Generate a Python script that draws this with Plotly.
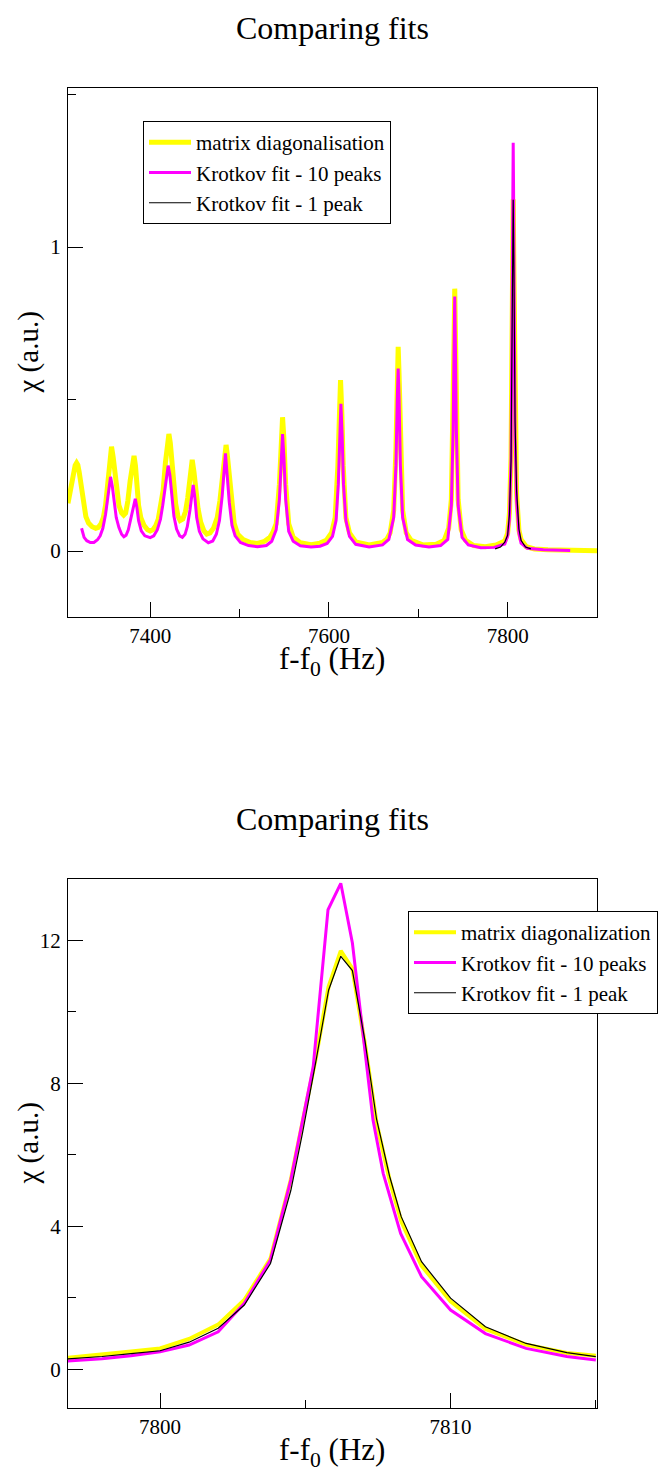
import plotly.graph_objects as go

# ---- top panel: wide scan (x in Hz, chi in a.u.) ----
diag_x = [7308, 7310, 7312, 7314, 7316, 7317.6, 7319, 7320.5, 7322, 7324,
          7326, 7328, 7331, 7335, 7339, 7342, 7345, 7347.5, 7350, 7352,
          7354, 7356.7, 7358.5, 7360.5, 7362.5, 7365, 7368, 7370.3, 7372.5, 7375,
          7377.5, 7380, 7381.9, 7383.5, 7385.2, 7387, 7389.5, 7393, 7397, 7400,
          7403, 7406, 7409, 7412, 7414.5, 7417, 7419.5, 7420.9, 7422.5, 7424.5,
          7426.5, 7428.5, 7431, 7433.5, 7436.5, 7439.5, 7442, 7444.5, 7447, 7449,
          7451, 7453.5, 7456.5, 7460, 7463.3, 7467, 7471, 7475, 7478, 7481,
          7483.5, 7484.9, 7486.5, 7488.5, 7491, 7494, 7498, 7504, 7512, 7520,
          7528, 7534, 7537, 7541, 7544.6, 7546.6, 7548.1, 7549.6, 7551.6, 7555,
          7560, 7568, 7580, 7590, 7597, 7603, 7607, 7610, 7611.5, 7613,
          7614.5, 7616, 7619, 7623, 7630, 7645, 7660, 7665, 7668.5, 7672.5,
          7675, 7676.5, 7677.5, 7678.5, 7680, 7682.5, 7686.5, 7692, 7705, 7720,
          7729, 7734, 7737, 7739, 7740, 7740.8, 7741.6, 7742.6, 7744.6, 7748,
          7753, 7762, 7775, 7787, 7796.8, 7800, 7802, 7803.8, 7805.36, 7806.22,
          7807.05, 7808.3, 7810, 7812.6, 7815, 7820.9, 7830, 7845, 7870, 7900]
diag_y = [0.157, 0.19, 0.225, 0.258, 0.282, 0.29, 0.283, 0.26, 0.225, 0.18,
          0.14, 0.113, 0.092, 0.08, 0.075, 0.078, 0.09, 0.11, 0.15, 0.2,
          0.28, 0.343, 0.31, 0.25, 0.19, 0.15, 0.125, 0.118, 0.125, 0.165,
          0.23, 0.29, 0.313, 0.28, 0.21, 0.15, 0.11, 0.085, 0.07, 0.066,
          0.07, 0.082, 0.105, 0.148, 0.2, 0.29, 0.36, 0.385, 0.355, 0.29,
          0.21, 0.155, 0.115, 0.1, 0.105, 0.13, 0.175, 0.24, 0.30, 0.26,
          0.2, 0.14, 0.095, 0.067, 0.056, 0.06, 0.076, 0.11, 0.165, 0.26,
          0.33, 0.349, 0.31, 0.24, 0.15, 0.09, 0.055, 0.038, 0.028, 0.025,
          0.032, 0.045, 0.06, 0.09, 0.22, 0.37, 0.44, 0.37, 0.22, 0.09,
          0.045, 0.027, 0.021, 0.026, 0.035, 0.06, 0.11, 0.28, 0.45, 0.5625,
          0.45, 0.28, 0.11, 0.06, 0.03, 0.02, 0.028, 0.04, 0.06, 0.134,
          0.336, 0.58, 0.672, 0.58, 0.336, 0.134, 0.06, 0.035, 0.02, 0.022,
          0.035, 0.075, 0.17, 0.43, 0.69, 0.863, 0.69, 0.43, 0.17, 0.07,
          0.035, 0.018, 0.014, 0.02, 0.033, 0.059, 0.125, 0.31, 0.87, 1.157,
          0.91, 0.415, 0.19, 0.069, 0.038, 0.014, 0.007, 0.004, 0.002, 0.001]

k10_x = [7323.2, 7324.5, 7326, 7329, 7333, 7337, 7341, 7344, 7347, 7350,
         7352.5, 7355.6, 7357.5, 7359.5, 7362, 7365, 7368, 7370.5, 7373, 7375.5,
         7378, 7381, 7383.3, 7385, 7387, 7390, 7394, 7400, 7404, 7408,
         7411.5, 7414, 7417, 7420.1, 7422, 7424, 7426.5, 7429.5, 7433, 7436,
         7439, 7441.5, 7444.5, 7448.1, 7450, 7452, 7455, 7459, 7465, 7470,
         7474, 7477.5, 7480.5, 7484.2, 7486.5, 7488.5, 7491.5, 7495, 7501, 7510,
         7520, 7530, 7536, 7541, 7544.6, 7546.6, 7548.1, 7549.6, 7551.6, 7555,
         7560, 7568, 7580, 7590, 7598, 7604, 7608, 7610.5, 7612, 7613.4,
         7614.8, 7616.3, 7619, 7623, 7630, 7645, 7660, 7667, 7672.5, 7675,
         7676.5, 7677.5, 7678.5, 7680, 7682.5, 7688, 7697, 7712, 7725, 7733,
         7737, 7739, 7740, 7740.8, 7741.6, 7742.6, 7744.6, 7749, 7756, 7770,
         7785, 7796.8, 7800, 7802, 7803.8, 7805.27, 7805.78, 7806.22, 7806.62, 7807.33,
         7808.28, 7810, 7812.6, 7815, 7822, 7840, 7870]
k10_y = [0.075, 0.058, 0.045, 0.034, 0.028, 0.028, 0.037, 0.05, 0.075, 0.12,
         0.175, 0.244, 0.215, 0.16, 0.11, 0.077, 0.055, 0.047, 0.052, 0.07,
         0.1, 0.145, 0.172, 0.145, 0.1, 0.066, 0.05, 0.044, 0.05, 0.07,
         0.105, 0.15, 0.22, 0.281, 0.25, 0.18, 0.115, 0.072, 0.05, 0.045,
         0.055, 0.08, 0.135, 0.217, 0.175, 0.11, 0.065, 0.04, 0.027, 0.033,
         0.055, 0.1, 0.18, 0.321, 0.24, 0.16, 0.085, 0.05, 0.028, 0.018,
         0.014, 0.018, 0.032, 0.07, 0.17, 0.31, 0.385, 0.31, 0.17, 0.065,
         0.032, 0.017, 0.013, 0.016, 0.025, 0.048, 0.1, 0.22, 0.38, 0.484,
         0.38, 0.22, 0.1, 0.048, 0.022, 0.013, 0.02, 0.038, 0.11, 0.28,
         0.5, 0.6, 0.5, 0.28, 0.11, 0.038, 0.02, 0.013, 0.018, 0.038,
         0.15, 0.4, 0.66, 0.837, 0.66, 0.4, 0.15, 0.045, 0.02, 0.011,
         0.012, 0.023, 0.049, 0.105, 0.306, 0.846, 1.285, 1.343, 1.192, 0.697,
         0.38, 0.166, 0.059, 0.026, 0.009, 0.004, 0.002]

k1_x = [7786, 7792, 7796.8, 7800, 7802, 7803.8, 7805.36, 7806.22, 7807.05, 7808.3,
        7810, 7812.6, 7815, 7820, 7826]
k1_y = [0.007, 0.013, 0.029, 0.052, 0.12, 0.296, 0.86, 1.155, 0.92, 0.427,
        0.199, 0.0725, 0.035, 0.013, 0.007]

# ---- bottom panel: zoom on the last peak ----
zdiag_x = [7796.8, 7798, 7799, 7800, 7801, 7802, 7802.9, 7803.8, 7804.5, 7804.9,
           7805.36, 7805.8, 7806.22, 7806.62, 7807.05, 7807.45, 7807.9, 7808.3, 7809, 7810,
           7811.2, 7812.6, 7814, 7815]
zdiag_y = [0.325, 0.41, 0.5, 0.587, 0.85, 1.25, 1.94, 3.1, 5.3, 6.9,
           8.7, 10.7, 11.7, 11.2, 9.1, 6.9, 5.3, 4.15, 2.9, 1.9,
           1.13, 0.69, 0.46, 0.38]

zk10_x = [7796.8, 7798, 7799, 7800, 7801, 7802, 7802.9, 7803.8, 7804.5, 7804.9,
          7805.27, 7805.78, 7806.22, 7806.62, 7806.99, 7807.33, 7807.68, 7808.28, 7809, 7810,
          7811.2, 7812.6, 7814, 7815]
zk10_y = [0.232, 0.3, 0.38, 0.49, 0.68, 1.05, 1.85, 3.06, 5.3, 6.9,
          8.46, 12.85, 13.59, 11.92, 9.4, 6.97, 5.48, 3.8, 2.59, 1.66,
          1.0, 0.587, 0.36, 0.26]

zk1_x = [7796.8, 7798, 7799, 7800, 7801, 7802, 7802.9, 7803.8, 7804.5, 7804.9,
         7805.36, 7805.8, 7806.22, 7806.62, 7807.05, 7807.45, 7807.9, 7808.3, 7809, 7810,
         7811.2, 7812.6, 7814, 7815]
zk1_y = [0.29, 0.36, 0.44, 0.52, 0.76, 1.15, 1.8, 2.96, 5.0, 6.6,
         8.6, 10.6, 11.55, 11.15, 9.2, 7.0, 5.4, 4.27, 3.01, 1.99,
         1.19, 0.725, 0.47, 0.354]

W, H = 660, 1472
SERIF = 'Liberation Serif'


def px_x(p):
    return p / W


def px_y(p):
    return 1 - p / H


fig = go.Figure()

# top panel
fig.add_trace(go.Scatter(x=diag_x, y=diag_y, mode='lines', name='matrix diagonalisation',
                         line=dict(color='#ffff00', width=5), xaxis='x', yaxis='y', legend='legend'))
fig.add_trace(go.Scatter(x=k10_x, y=k10_y, mode='lines', name='Krotkov fit - 10 peaks',
                         line=dict(color='#ff00ff', width=3), xaxis='x', yaxis='y', legend='legend'))
fig.add_trace(go.Scatter(x=k1_x, y=k1_y, mode='lines', name='Krotkov fit - 1 peak',
                         line=dict(color='black', width=1.2), xaxis='x', yaxis='y', legend='legend'))

# bottom panel
fig.add_trace(go.Scatter(x=zdiag_x, y=zdiag_y, mode='lines', name='matrix diagonalization',
                         line=dict(color='#ffff00', width=4), xaxis='x2', yaxis='y2', legend='legend2'))
fig.add_trace(go.Scatter(x=zk10_x, y=zk10_y, mode='lines', name='Krotkov fit - 10 peaks',
                         line=dict(color='#ff00ff', width=3), xaxis='x2', yaxis='y2', legend='legend2'))
fig.add_trace(go.Scatter(x=zk1_x, y=zk1_y, mode='lines', name='Krotkov fit - 1 peak',
                         line=dict(color='black', width=1.2), xaxis='x2', yaxis='y2', legend='legend2'))

axis_style = dict(
    showline=True, mirror=True, linecolor='black', linewidth=1,
    showgrid=False, zeroline=False,
    ticks='inside', ticklen=15, tickwidth=1, tickcolor='black',
    tickfont=dict(family=SERIF, size=21, color='black'),
)
minor_style = dict(ticks='inside', ticklen=8, tickcolor='black', tick0=0)

legend_style = dict(xanchor='left', yanchor='top', bgcolor='white',
                    bordercolor='black', borderwidth=1, itemwidth=42,
                    font=dict(family=SERIF, size=21, color='black'), tracegroupgap=0)

fig.update_layout(
    width=W, height=H,
    margin=dict(l=0, r=0, t=0, b=0),
    plot_bgcolor='white', paper_bgcolor='white',
    font=dict(family=SERIF, color='black'),
    xaxis=dict(axis_style, domain=[px_x(68), px_x(597)], range=[7308, 7900],
               dtick=200, tick0=0, tickformat='d', anchor='y', ticklabelstandoff=0,
               minor=dict(minor_style, dtick=100)),
    yaxis=dict(axis_style, domain=[px_y(617), px_y(88)], range=[-0.217, 1.523],
               dtick=1, tick0=0, anchor='x', ticklabelstandoff=2,
               minor=dict(minor_style, dtick=0.5)),
    xaxis2=dict(axis_style, domain=[px_x(68), px_x(597)], range=[7796.83, 7815.04],
                dtick=10, tick0=0, tickformat='d', anchor='y2', ticklabelstandoff=0,
                minor=dict(minor_style, dtick=5)),
    yaxis2=dict(axis_style, domain=[px_y(1408), px_y(879)], range=[-1.08, 13.71],
                dtick=4, tick0=0, anchor='x2', ticklabelstandoff=2,
                minor=dict(minor_style, dtick=2)),
    legend=dict(legend_style, x=px_x(143), y=px_y(121)),
    legend2=dict(legend_style, x=px_x(408), y=px_y(911)),
    showlegend=True,
)

annotations = []
for top, mid, bottom in [(88, 352.5, 617), (879, 1143.5, 1408)]:
    annotations.append(dict(text='Comparing fits', x=px_x(332), y=px_y(top - 60),
                            xref='paper', yref='paper', showarrow=False,
                            xanchor='center', yanchor='middle',
                            font=dict(family=SERIF, size=32, color='black')))
    annotations.append(dict(text='f-f<sub>0</sub> (Hz)', x=px_x(332), y=px_y(bottom + 44),
                            xref='paper', yref='paper', showarrow=False,
                            xanchor='center', yanchor='middle',
                            font=dict(family=SERIF, size=31, color='black')))
    annotations.append(dict(text='χ (a.u.)', x=px_x(28), y=px_y(mid),
                            xref='paper', yref='paper', showarrow=False, textangle=-90,
                            xanchor='center', yanchor='middle',
                            font=dict(family=SERIF, size=29, color='black')))
fig.update_layout(annotations=annotations)

# page body has a default 8px margin; drop it so the figure sits at the window corner
fig.write_html("out.html", config={'displayModeBar': False},
               post_script="document.body.style.margin='0';document.body.style.overflow='hidden';")
